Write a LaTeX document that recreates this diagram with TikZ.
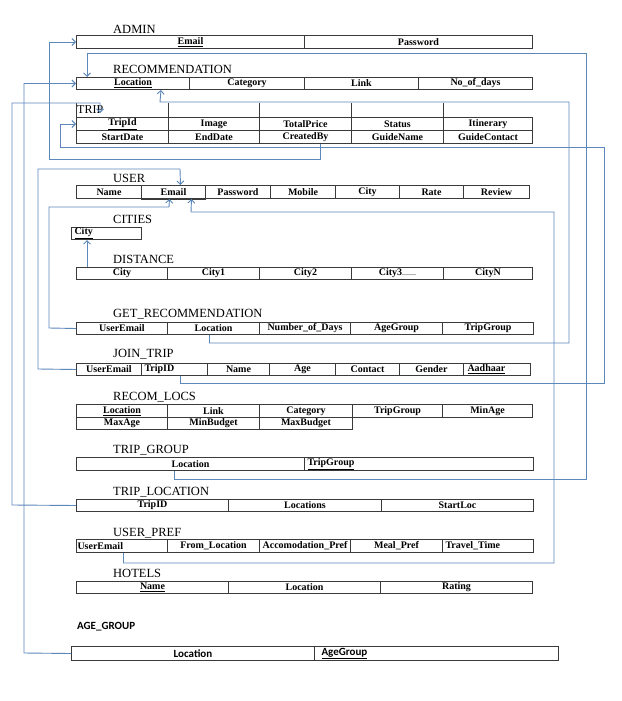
\documentclass[tikz,border=0pt]{standalone}
\usepackage{fontspec}
\setmainfont{Liberation Serif}
\newfontfamily\calfont{Carlito}
\usetikzlibrary{arrows.meta}
\definecolor{tblc}{HTML}{3A3A3A}
\definecolor{lnk}{HTML}{5B87BA}
\newcommand\cf{\fontsize{10}{12}\selectfont\bfseries}
\newcommand\tf{\fontsize{12.5}{14}\selectfont}
\newcommand\sfb{\fontsize{11}{13}\selectfont\calfont\bfseries}
\begin{document}
\begin{tikzpicture}[x=1pt,y=-1pt,
 cell/.style={draw=tblc, line width=1pt, inner sep=0pt, anchor=north west, font=\cf, minimum height=13pt},
 tbl/.style={draw=tblc, line width=1pt},
 ttl/.style={anchor=west, inner sep=0pt, font=\tf},
 conn/.style={draw=lnk, line width=0.9pt},
 arr/.style={conn, -{Straight Barb[length=3.5pt,width=7pt]}}]
\fill[white] (0,0) rectangle (621,701);
\useasboundingbox (0,0) rectangle (621,701);

% ---------- titles
\node[ttl] (tadmin) at (113,29) {ADMIN};
\node[ttl] (trec) at (113,69) {RECOMMENDATION};
\node[ttl, font=\fontsize{12}{14}\selectfont] (ttrip) at (77,110) {TRIP};
\node[ttl] (tuser) at (113,178) {USER};
\node[ttl] (tcities) at (113,219) {CITIES};
\node[ttl] (tdist) at (113,259) {DISTANCE};
\node[ttl] (tgetrec) at (113,314) {GET\_RECOMMENDATION};
\node[ttl] (tjoin) at (113,354) {JOIN\_TRIP};
\node[ttl] (trecl) at (113,397) {RECOM\_LOCS};
\node[ttl] (ttg) at (113,450) {TRIP\_GROUP};
\node[ttl] (ttloc) at (113,492) {TRIP\_LOCATION};
\node[ttl] (tup) at (113,533) {USER\_PREF};
\node[ttl] (thot) at (113,573) {HOTELS};
\node[ttl, font=\sfb] (tage) at (77,627) {AGE\_GROUP};

% ---------- ADMIN
\node[cell, minimum width=228pt] (aem) at (76,35) {\underline{Email}};
\node[cell, minimum width=228pt] (apw) at (304,35) {Password};

% ---------- RECOMMENDATION
\node[cell, minimum width=113pt, minimum height=12pt] (rloc) at (76,77) {\underline{Location}};
\node[cell, minimum width=115pt, minimum height=12pt] (rcat) at (189,77) {Category};
\node[cell, minimum width=114pt, minimum height=12pt] (rlink) at (304,77) {Link};
\node[cell, minimum width=114pt, minimum height=12pt] (rdays) at (418,77) {No\_of\_days};

% ---------- TRIP
\node[cell, minimum width=92pt] (tid) at (76,117) {\underline{TripId}};
\node[cell, minimum width=91pt] (timg) at (168,117) {Image};
\node[cell, minimum width=92pt] (tprice) at (259,117) {TotalPrice};
\node[cell, minimum width=92pt] (tstat) at (351,117) {Status};
\node[cell, minimum width=89pt] (titin) at (443,117) {Itinerary};
\node[cell, minimum width=92pt] (tsd) at (76,130) {StartDate};
\node[cell, minimum width=91pt] (ted) at (168,130) {EndDate};
\node[cell, minimum width=92pt] (tcb) at (259,130) {CreatedBy};
\node[cell, minimum width=92pt] (tgn) at (351,130) {GuideName};
\node[cell, minimum width=89pt] (tgc) at (443,130) {GuideContact};
\foreach \c in {tid,timg,tprice,tstat,titin}{
  \draw[tbl] (\c.north west) -- ++(0,-14);
}

% ---------- USER
\node[cell, minimum width=65pt] (uname) at (76,185) {Name};
\node[cell, minimum width=64pt] (uem) at (141,185) {Email};
\node[cell, minimum width=65pt] (upw) at (205,185) {Password};
\node[cell, minimum width=65pt] (umob) at (270,185) {Mobile};
\node[cell, minimum width=64pt] (ucity) at (335,185) {City};
\node[cell, minimum width=64pt] (urate) at (399,185) {Rate};
\node[cell, minimum width=66pt] (urev) at (463,185) {Review};
\draw[draw=tblc, line width=1.6pt] (uem.south west) -- (uem.south east);

% ---------- CITIES
\node[cell, minimum width=70pt, minimum height=12pt, text width=64pt, inner xsep=3pt, align=left] (cty) at (71,227) {\underline{City}};

% ---------- DISTANCE
\node[cell, minimum width=91pt, minimum height=11.5pt] (dcity) at (76,267) {City};
\node[cell, minimum width=92pt, minimum height=11.5pt] (dc1) at (167,267) {City1};
\node[cell, minimum width=92pt, minimum height=11.5pt] (dc2) at (259,267) {City2};
\node[cell, minimum width=92pt, minimum height=11.5pt] (dc3) at (351,267) {City3{\mdseries\fontsize{8}{9}\selectfont.......}};
\node[cell, minimum width=89pt, minimum height=11.5pt] (dcn) at (443,267) {CityN};

% ---------- GET_RECOMMENDATION
\node[cell, minimum width=91pt, minimum height=12pt] (gue) at (76,322) {UserEmail};
\node[cell, minimum width=92pt, minimum height=12pt] (gloc) at (167,322) {Location};
\node[cell, minimum width=91pt, minimum height=12pt] (gnd) at (259,322) {Number\_of\_Days};
\node[cell, minimum width=92pt, minimum height=12pt] (gag) at (350,322) {AgeGroup};
\node[cell, minimum width=91pt, minimum height=12pt] (gtg) at (442,322) {TripGroup};

% ---------- JOIN_TRIP
\node[cell, minimum width=65pt, minimum height=12pt] (jue) at (76,363) {UserEmail};
\node[cell, minimum width=66pt, minimum height=12pt, text width=60pt, inner xsep=3pt, align=left] (jtid) at (141,363) {TripID};
\node[cell, minimum width=62pt, minimum height=12pt] (jname) at (207,363) {Name};
\node[cell, minimum width=66pt, minimum height=12pt] (jage) at (269,363) {Age};
\node[cell, minimum width=64pt, minimum height=12pt] (jcon) at (335,363) {Contact};
\node[cell, minimum width=64pt, minimum height=12pt] (jgen) at (399,363) {Gender};
\node[cell, minimum width=67pt, minimum height=12pt, text width=59pt, inner xsep=4pt, align=left] (jaad) at (463,363) {\underline{Aadhaar}};

% ---------- RECOM_LOCS
\node[cell, minimum width=91pt] (rlloc) at (76,404) {\underline{Location}};
\node[cell, minimum width=92pt] (rllink) at (167,404) {Link};
\node[cell, minimum width=93pt] (rlcat) at (259,404) {Category};
\node[cell, minimum width=90pt] (rltg) at (352,404) {TripGroup};
\node[cell, minimum width=90pt] (rlmin) at (442,404) {MinAge};
\node[cell, minimum width=91pt, minimum height=12pt] (rlmax) at (76,417) {MaxAge};
\node[cell, minimum width=92pt, minimum height=12pt] (rlminb) at (167,417) {MinBudget};
\node[cell, minimum width=93pt, minimum height=12pt] (rlmaxb) at (259,417) {MaxBudget};

% ---------- TRIP_GROUP
\node[cell, minimum width=228pt] (tgloc) at (76,457) {Location};
\node[cell, minimum width=229pt, text width=223pt, inner xsep=3pt, align=left] (tgtg) at (304,457) {\underline{TripGroup}};

% ---------- TRIP_LOCATION
\node[cell, minimum width=152pt, minimum height=12pt] (tltid) at (76,499) {TripID};
\node[cell, minimum width=153pt, minimum height=12pt] (tllocs) at (228,499) {Locations};
\node[cell, minimum width=152pt, minimum height=12pt] (tlstart) at (381,499) {StartLoc};

% ---------- USER_PREF
\node[cell, minimum width=91pt, text width=89pt, inner xsep=1pt, align=left] (upue) at (76,539) {UserEmail};
\node[cell, minimum width=92pt] (upfrom) at (167,539) {From\_Location};
\node[cell, minimum width=91pt] (upacc) at (259,539) {Accomodation\_Pref};
\node[cell, minimum width=92pt] (upmeal) at (350,539) {Meal\_Pref};
\node[cell, minimum width=91pt, text width=85pt, inner xsep=3pt, align=left] (uptt) at (442,539) {Travel\_Time};

% ---------- HOTELS
\node[cell, minimum width=152pt, minimum height=12pt] (hname) at (76,581) {\underline{Name}};
\node[cell, minimum width=152pt, minimum height=12pt] (hloc) at (228,581) {Location};
\node[cell, minimum width=152pt, minimum height=12pt] (hrat) at (380,581) {Rating};

% ---------- AGE_GROUP
\node[cell, font=\sfb, minimum width=243pt, minimum height=14pt] (agloc) at (71,646) {Location};
\node[cell, font=\sfb, minimum width=244pt, minimum height=14pt, text width=230pt, inner xsep=7pt, align=left] (agag) at (314,646) {\underline{AgeGroup}};

% ---------- connectors
\draw[arr] ([xshift=15pt]tcb.south) |- (49,159) |- (aem.west);
\draw[arr] ([xshift=-16pt]tgloc.south) |- (586,479) |- (87,53) -- ([xshift=11pt]rloc.north west);
\draw[arr] (agloc.west) -- (24,653) |- (rloc.west);
\draw[arr] ([xshift=-4pt]gloc.south) |- (569,343) |- (160,102) -- ([xshift=-29pt]rloc.south east);
\draw[arr] (tltid.west) -- (12,505) |- (100,103) -- ([xshift=24pt,yshift=4pt]tid.north west);
\draw[arr] ([xshift=6pt]jtid.south) |- (604,383) |- (60,147) |- (tid.west);
\draw[arr] (jue.west) -- (38,369) |- (180,169) -- ([xshift=7pt]uem.north);
\draw[arr] (gue.west) -- (49,328) |- (169,207) -- ([xshift=-4pt]uem.south);
\draw[arr] ([xshift=1.5pt]upue.south) |- (554,563) |- (191,212) -- ([xshift=18pt]uem.south);
\draw[arr] ([xshift=11pt]dcity.north west) -- ([xshift=16pt]cty.south west);
\end{tikzpicture}
\end{document}
